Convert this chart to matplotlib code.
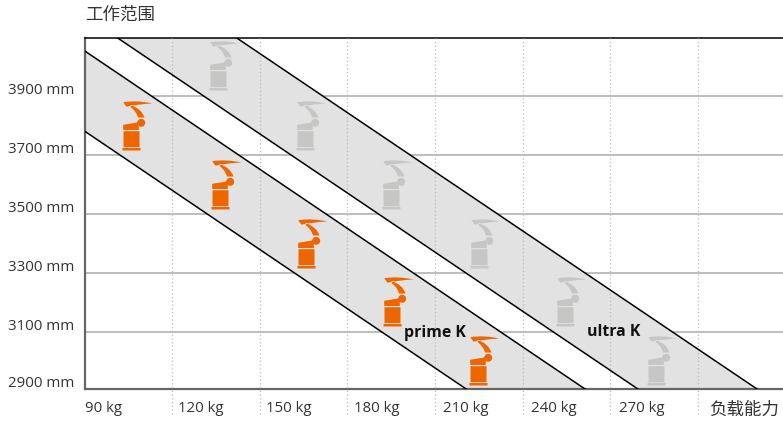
import matplotlib
matplotlib.use("Agg")
import matplotlib.pyplot as plt
from matplotlib.path import Path

plt.rcParams['font.family'] = ['Open Sans', 'Noto Sans CJK SC', 'DejaVu Sans']

# Axis values
x_ticks = [90, 120, 150, 180, 210, 240, 270, 300]
x_labels = ['90 kg', '120 kg', '150 kg', '180 kg', '210 kg', '240 kg', '270 kg', '负载能力']
x_label_dx = [0.7, 4.5, 4.5, 4.8, 5.8, 6.2, 6.6, 8.5]
y_ticks = [2907, 3100, 3300, 3500, 3700, 3900]
y_labels = ['2900 mm', '3100 mm', '3300 mm', '3500 mm', '3700 mm', '3900 mm']

# Band edges (kg, mm)
prime_low_kg = [90, 220.7]
prime_low_mm = [3781, 2907]
prime_high_kg = [90, 261.4]
prime_high_mm = [4053, 2907]
ultra_low_kg = [101.1, 279.5]
ultra_low_mm = [4098, 2907]
ultra_high_kg = [141.9, 320.3]
ultra_high_mm = [4098, 2907]

# Robot positions
prime_kg = [105.9, 136.4, 165.8, 195.3, 224.8]
prime_mm = [3717, 3517, 3317, 3120, 2920]
ultra_kg = [135.7, 165.5, 195.0, 225.1, 254.6, 285.8]
ultra_mm = [3920, 3717, 3517, 3317, 3120, 2920]

ORANGE = '#EE6600'
ROBOT_GRAY = '#C6C7C5'
BAND = '#E2E2E2'
TEXT = '#333333'


# Robot shape in pixels around the middle of its foot
def robot_marker():
    M, L, C, Z = Path.MOVETO, Path.LINETO, Path.CURVE3, Path.CLOSEPOLY
    verts, codes = [], []

    def poly(points):
        verts.extend(points + [points[0]])
        codes.extend([M] + [L] * (len(points) - 1) + [Z])

    poly([(-9, 0), (9, 0), (9, 2.7), (-9, 2.7)])
    poly([(-8, 3.5), (8, 3.5), (8, 19.3), (-8, 19.3)])
    poly([(-8.3, 20.5), (7.3, 20.5), (7.3, 28.3), (-8.3, 25.7)])
    # arm
    verts.extend([(13, 33), (10, 42), (-1, 45.5), (-0.5, 43), (4.5, 39.5), (6.5, 33), (13, 33)])
    codes.extend([M, C, C, L, C, C, Z])
    # forearm
    verts.extend([(-8.3, 48.3), (5.7, 50.5), (20.7, 47), (5.7, 46.3), (-5, 43.8), (-8.3, 48.3)])
    codes.extend([M, C, C, C, C, Z])
    # joint
    circle = Path.circle((9.7, 27.7), 4)
    verts.extend(circle.vertices.tolist())
    codes.extend(circle.codes.tolist())
    return Path(verts, codes)


fig = plt.figure(figsize=(7.83, 4.21), dpi=100)
ax = fig.add_axes([84.5 / 783, 1 - 389 / 421, (783 - 84.5) / 783, (389 - 37.5) / 421])
ax.set_xlim(90, 329.2)
ax.set_ylim(2907, 4098)

# Grid
for y in y_ticks[1:]:
    ax.axhline(y, color='#BDBDBD', lw=1.4, zorder=1)

# Bands
ax.fill(prime_low_kg + prime_high_kg[::-1], prime_low_mm + prime_high_mm[::-1],
        color=BAND, lw=0, zorder=2)
ax.fill(ultra_low_kg + ultra_high_kg[::-1], ultra_low_mm + ultra_high_mm[::-1],
        color=BAND, lw=0, zorder=2)
for kg, mm in [(prime_low_kg, prime_low_mm), (prime_high_kg, prime_high_mm),
               (ultra_low_kg, ultra_low_mm), (ultra_high_kg, ultra_high_mm)]:
    ax.plot(kg, mm, color='black', lw=1.1, zorder=4)

for x in x_ticks[1:]:
    ax.axvline(x, ymin=-0.07, ymax=1, color='#BBBBBB', lw=0.9, ls=(0, (1, 2)),
               clip_on=False, zorder=3)

# Robots
marker = robot_marker()
ms = 2 * 50.5 * 0.72
ax.plot(prime_kg, prime_mm, ls='none', marker=marker, ms=ms, mfc=ORANGE, mew=0, zorder=5)
ax.plot(ultra_kg, ultra_mm, ls='none', marker=marker, ms=ms, mfc=ROBOT_GRAY, mew=0, zorder=5)

ax.text(199.4, 3097, 'prime K', fontsize=11.4, fontweight='bold', color='#111111',
        va='center', zorder=6)
ax.text(262.1, 3100, 'ultra K', fontsize=11.4, fontweight='bold', color='#111111',
        va='center', zorder=6)

# Spines
for side in ['left', 'bottom']:
    ax.spines[side].set_color('#666666')
    ax.spines[side].set_linewidth(1.6)
ax.spines['top'].set_color('black')
ax.spines['top'].set_linewidth(1.1)
ax.spines['right'].set_visible(False)
ax.set_xticks([])
ax.set_yticks([])

# Tick labels
for x, label, dx in zip(x_ticks, x_labels, x_label_dx):
    if label == '负载能力':
        ax.annotate(label, xy=(x, 2907), xytext=(dx, -15.5), textcoords='offset points',
                    fontsize=12.6, color=TEXT, va='center', annotation_clip=False)
    else:
        ax.annotate(label, xy=(x, 2907), xytext=(dx, -13.7), textcoords='offset points',
                    fontsize=10.8, color=TEXT, va='center', annotation_clip=False)
for y, label in zip(y_ticks, y_labels):
    ax.annotate(label, xy=(90, y), xytext=(-7.5, 3.8), textcoords='offset points',
                fontsize=10.8, color=TEXT, ha='right', va='center', annotation_clip=False)
fig.text(85.5 / 783, 1 - 16 / 421, '工作范围', fontsize=12.6, color=TEXT, va='center')

fig.savefig('out.png', dpi=100)
